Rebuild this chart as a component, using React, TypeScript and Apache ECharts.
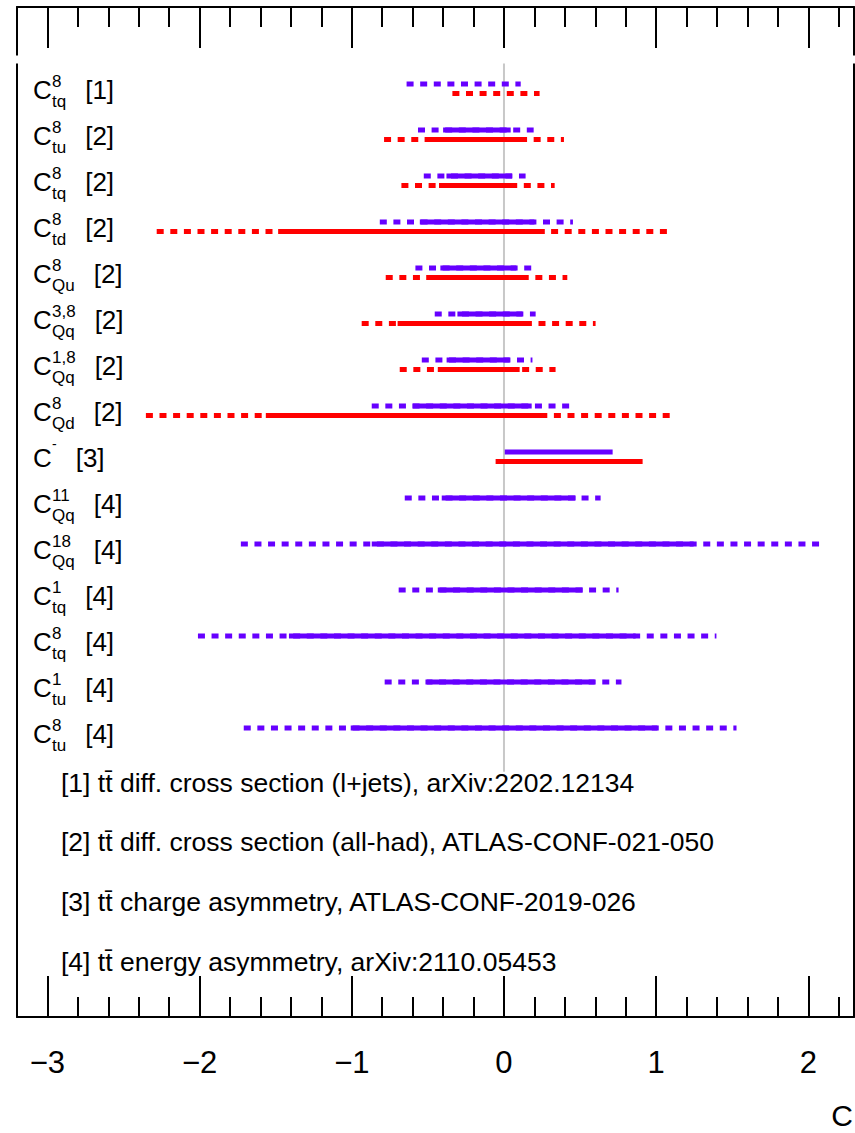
import React, { useEffect, useRef } from "react";
import * as echarts from "echarts";

// Wilson-coefficient rows: superscript, subscript and reference number
const ROW_SUP = ["8", "8", "8", "8", "8", "3,8", "1,8", "8", "-", "11", "18", "1", "8", "1", "8"];
const ROW_SUB = ["tq", "tu", "tq", "td", "Qu", "Qq", "Qq", "Qd", "", "Qq", "Qq", "tq", "tq", "tu", "tu"];
const ROW_REF = [1, 2, 2, 2, 2, 2, 2, 2, 3, 4, 4, 4, 4, 4, 4];

type Range = [number, number] | null;

// purple: first bound set (95% dashed, 68% solid)
const PURPLE_95: Range[] = [
  [-0.64, 0.11], [-0.565, 0.195], [-0.527, 0.142], [-0.816, 0.453], [-0.582, 0.217],
  [-0.455, 0.208], [-0.54, 0.187], [-0.869, 0.47], null, [-0.652, 0.635],
  [-1.729, 2.108], [-0.692, 0.753], [-2.011, 1.396], [-0.784, 0.772], [-1.71, 1.528],
];
const PURPLE_68: Range[] = [
  null, [-0.4, 0.044], [-0.378, 0.053], [-0.553, 0.2], [-0.418, 0.081],
  [-0.306, 0.121], [-0.377, 0.037], [-0.6, 0.182], [0.005, 0.714], [-0.409, 0.471],
  [-0.869, 1.246], [-0.435, 0.517], [-1.413, 0.865], [-0.508, 0.596], [-1.007, 1.008],
];
// red: second bound set
const RED_95: Range[] = [
  [-0.339, 0.234], [-0.788, 0.394], [-0.674, 0.333], [-2.282, 1.107], [-0.777, 0.416],
  [-0.935, 0.602], [-0.685, 0.339], [-2.353, 1.132], null, null,
  null, null, null, null, null,
];
const RED_68: Range[] = [
  null, [-0.521, 0.14], [-0.427, 0.081], [-1.484, 0.267], [-0.51, 0.151],
  [-0.699, 0.169], [-0.435, 0.103], [-1.565, 0.254], [-0.055, 0.911], null,
  null, null, null, null, null,
];

const REFERENCES = [
  "[1] tt\u0304 diff. cross section (l+jets), arXiv:2202.12134",
  "[2] tt\u0304 diff. cross section (all-had), ATLAS-CONF-021-050",
  "[3] tt\u0304 charge asymmetry, ATLAS-CONF-2019-026",
  "[4] tt\u0304 energy asymmetry, arXiv:2110.05453",
];

const X_MIN = -3.2;
const X_MAX = 2.3;
const AXIS_TITLE = "C";

const PURPLE = "#6600ff";
const RED = "#ff0000";
const FONT = '"Liberation Sans", Arial, Helvetica, sans-serif';

const W = 855;
const H = 1133;
const GRID_LEFT = 17;
const GRID_RIGHT = W - 854;
const GRID_TOP = 7;
const GRID_BOTTOM = H - 1017;
const ROW_STEP = 46;
const FIRST_ROW_Y = 88.7;
const Y_MIN = -(FIRST_ROW_Y - GRID_TOP) / ROW_STEP;
const Y_MAX = Y_MIN + (H - GRID_TOP - GRID_BOTTOM) / ROW_STEP;

const measure = (() => {
  const ctx = document.createElement("canvas").getContext("2d");
  return (text: string, font: string) => {
    if (!ctx) return text.length * 8;
    ctx.font = font;
    return ctx.measureText(text).width;
  };
})();

function intervalSeries(ranges: Range[], color: string, dashed: boolean, offset: number) {
  const data = ranges
    .map((r, i) => (r ? [i, r[0], r[1]] : null))
    .filter((d) => d !== null);
  return {
    type: "custom",
    coordinateSystem: "cartesian2d",
    silent: true,
    z: dashed ? 3 : 4,
    encode: { x: [1, 2], y: 0 },
    data,
    renderItem: (_params: any, api: any) => {
      const row = api.value(0);
      const p1 = api.coord([api.value(1), row]);
      const p2 = api.coord([api.value(2), row]);
      const y = p1[1] + offset;
      return {
        type: "line",
        shape: { x1: p1[0], y1: y, x2: p2[0], y2: y },
        style: {
          stroke: color,
          lineWidth: 5,
          lineCap: "butt",
          lineDash: dashed ? [7, 6.6] : null,
        },
      };
    },
  };
}

function tickAxis(position: "top" | "bottom") {
  return {
    type: "value",
    position,
    min: X_MIN,
    max: X_MAX,
    splitNumber: 6,
    axisLine: { show: true, onZero: false, lineStyle: { color: "#000", width: 2 } },
    axisTick: { show: true, inside: true, length: 41, lineStyle: { color: "#000", width: 2 } },
    minorTick: { show: true, splitNumber: 5, length: 20, lineStyle: { color: "#000", width: 2 } },
    splitLine: { show: false },
    minorSplitLine: { show: false },
    axisLabel: {
      show: position === "bottom",
      margin: 30,
      fontSize: 31,
      fontFamily: FONT,
      color: "#000",
      showMinLabel: false,
      showMaxLabel: false,
      formatter: (v: number) =>
        Math.abs(v - Math.round(v)) < 1e-6
          ? v < 0
            ? "\u2212" + Math.abs(Math.round(v))
            : String(Math.round(v))
          : "",
    },
  };
}

function frameAxis(position: "left" | "right") {
  return {
    type: "value",
    position,
    inverse: true,
    min: Y_MIN,
    max: Y_MAX,
    axisLine: { show: true, onZero: false, lineStyle: { color: "#000", width: 2 } },
    axisTick: { show: false },
    axisLabel: { show: false },
    splitLine: { show: false },
  };
}

export default function App() {
  const ref = useRef<HTMLDivElement>(null);

  useEffect(() => {
    if (!ref.current) return;
    const chart = echarts.init(ref.current, undefined, { renderer: "svg" });

    const labelSeries = {
      type: "custom",
      coordinateSystem: "cartesian2d",
      silent: true,
      z: 5,
      encode: { x: 0, y: 1 },
      data: ROW_SUP.map((_, i) => [X_MIN, i]),
      renderItem: (params: any, api: any) => {
        const i = api.value(1);
        const ymid = api.coord([X_MIN, i])[1];
        const x0 = params.coordSys.x + 16;
        const sup = ROW_SUP[i];
        const sub = ROW_SUB[i];
        const smallFont = `17px ${FONT}`;
        const bigFont = `26px ${FONT}`;
        const xs = x0 + 19;
        const isMinus = sup === "-";
        const supFont = isMinus ? `14px ${FONT}` : smallFont;
        const wSup = measure(sup, supFont);
        const wSub = sub ? measure(sub, smallFont) : 0;
        const xRef = xs + Math.max(wSup, wSub) + 19;
        const children: any[] = [
          {
            type: "text",
            style: { text: "C", x: x0, y: ymid + 1.5, font: bigFont, fill: "#000", verticalAlign: "middle" },
          },
          {
            type: "text",
            style: {
              text: sup,
              x: xs,
              y: isMinus ? ymid - 13 : ymid - 7.5,
              font: supFont,
              fill: "#000",
              verticalAlign: "middle",
            },
          },
          {
            type: "text",
            style: {
              text: `[${ROW_REF[i]}]`,
              x: xRef,
              y: ymid + 1.5,
              font: bigFont,
              fill: "#000",
              verticalAlign: "middle",
            },
          },
        ];
        if (sub) {
          children.push({
            type: "text",
            style: { text: sub, x: xs, y: ymid + 12.6, font: smallFont, fill: "#000", verticalAlign: "middle" },
          });
        }
        return { type: "group", children };
      },
    };

    const zeroLine = {
      type: "custom",
      coordinateSystem: "cartesian2d",
      silent: true,
      z: 1,
      encode: { x: 0, y: [1, 2] },
      data: [[0, -0.55, 14.85]],
      renderItem: (_params: any, api: any) => {
        const a = api.coord([api.value(0), api.value(1)]);
        const b = api.coord([api.value(0), api.value(2)]);
        return {
          type: "line",
          shape: { x1: a[0], y1: a[1], x2: b[0], y2: b[1] },
          style: { stroke: "#c8c8c8", lineWidth: 2 },
        };
      },
    };

    const refTexts = REFERENCES.map((t, k) => ({
      type: "text",
      left: 61,
      top: 784 + k * 59.7 - 15,
      style: { text: t, font: `26.5px ${FONT}`, fill: "#000" },
    }));

    chart.setOption({
      animation: false,
      backgroundColor: "#fff",
      grid: { left: GRID_LEFT, right: GRID_RIGHT, top: GRID_TOP, bottom: GRID_BOTTOM },
      xAxis: [tickAxis("bottom"), tickAxis("top")],
      yAxis: [frameAxis("left"), frameAxis("right")],
      series: [
        zeroLine,
        intervalSeries(PURPLE_95, PURPLE, true, -4.8),
        intervalSeries(PURPLE_68, PURPLE, false, -4.8),
        intervalSeries(RED_95, RED, true, 4.8),
        intervalSeries(RED_68, RED, false, 4.8),
        labelSeries,
      ],
      graphic: [
        ...refTexts,
        {
          type: "text",
          right: 2,
          top: 1100,
          style: { text: AXIS_TITLE, font: `30px ${FONT}`, fill: "#000" },
        },
        // breaks in the side frame below the top tick strip
        { type: "rect", z: 100, shape: { x: 13, y: 55.5, width: 8, height: 8 }, style: { fill: "#fff" } },
        { type: "rect", z: 100, shape: { x: 850, y: 55.5, width: 8, height: 8 }, style: { fill: "#fff" } },
      ],
    });

    return () => chart.dispose();
  }, []);

  return (
    <div
      ref={ref}
      style={{ position: "fixed", left: 0, top: 0, width: W, height: H, background: "#fff" }}
    />
  );
}
